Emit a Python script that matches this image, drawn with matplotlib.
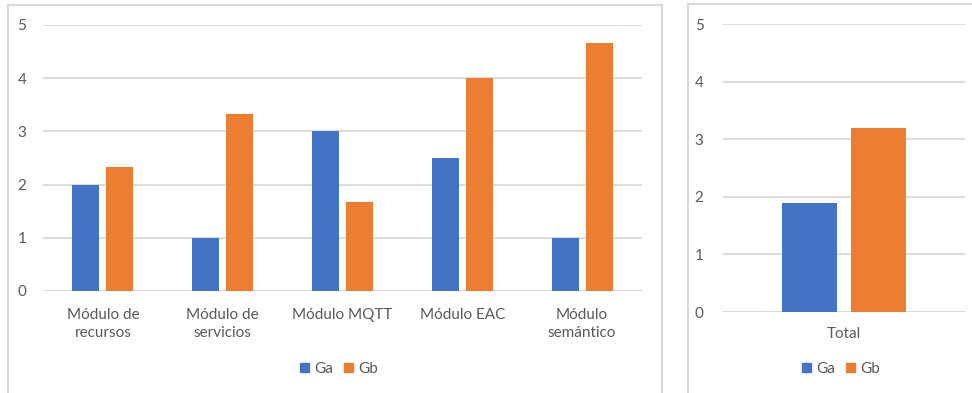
import matplotlib
matplotlib.use("Agg")
import matplotlib.pyplot as plt
import numpy as np
from matplotlib.patches import Rectangle, Patch

# Data
modules = ["Módulo de\nrecursos", "Módulo de\nservicios", "Módulo MQTT",
           "Módulo EAC", "Módulo\nsemántico"]
ga_values = [2, 1, 3, 2.5, 1]
gb_values = [2.33, 3.33, 1.67, 4, 4.67]

total_label = ["Total"]
ga_total = [1.9]
gb_total = [3.2]

series_names = ["Ga", "Gb"]
yticks = [0, 1, 2, 3, 4, 5]

BLUE = "#4472C4"
ORANGE = "#ED7D31"
GRID = "#D9D9D9"
TEXT = "#595959"

plt.rcParams["font.family"] = ["Lato", "DejaVu Sans"]
FS = 11

W, H = 972, 393
fig = plt.figure(figsize=(W / 100, H / 100), dpi=100)


def fx(px):
    return px / W


def fy(py):
    return 1 - py / H


# panel frames
fig.patches.append(Rectangle((fx(8), fy(420)), fx(662) - fx(8), fy(5) - fy(420),
                             transform=fig.transFigure, fill=False,
                             edgecolor=GRID, linewidth=1.5, zorder=0))
fig.patches.append(Rectangle((fx(688), fy(420)), fx(1000) - fx(688), fy(4) - fy(420),
                             transform=fig.transFigure, fill=False,
                             edgecolor=GRID, linewidth=1.5, zorder=0))


def style_axes(ax, ypad, xpad):
    ax.set_ylim(0, 5)
    ax.set_yticks(yticks)
    for s in ax.spines.values():
        s.set_visible(False)
    ax.yaxis.grid(True, color=GRID, linewidth=1.3)
    ax.set_axisbelow(True)
    ax.tick_params(axis="both", length=0, labelsize=FS, labelcolor=TEXT)
    ax.tick_params(axis="y", pad=ypad)
    ax.tick_params(axis="x", pad=xpad)
    ax.axhline(0, color=GRID, linewidth=1.3, zorder=1)


bw = 0.225
off = 0.142

# left chart
ax1 = fig.add_axes([fx(43), fy(291), fx(642) - fx(43), fy(25) - fy(291)])
x = np.arange(len(modules))
ax1.bar(x - off, ga_values, bw, color=BLUE, zorder=2)
ax1.bar(x + off, gb_values, bw, color=ORANGE, zorder=2)
ax1.set_xlim(-0.5, len(modules) - 0.5)
ax1.set_xticks(x)
ax1.set_xticklabels(modules, linespacing=1.38)
style_axes(ax1, 12, 12)

# right chart
ax2 = fig.add_axes([fx(723), fy(312), fx(965) - fx(723), fy(24) - fy(312)])
x2 = np.arange(len(total_label))
ax2.bar(x2 - off, ga_total, bw, color=BLUE, zorder=2)
ax2.bar(x2 + off, gb_total, bw, color=ORANGE, zorder=2)
ax2.set_xlim(-0.5, 0.5)
ax2.set_xticks(x2)
ax2.set_xticklabels(total_label)
style_axes(ax2, 14, 11)

handles = [Patch(color=BLUE, label=series_names[0]),
           Patch(color=ORANGE, label=series_names[1])]
for cx in (339, 841):
    leg = fig.legend(handles=handles, loc="center", ncol=2,
                     bbox_to_anchor=(fx(cx), fy(369)), frameon=False,
                     fontsize=FS, handlelength=0.6, handleheight=0.6,
                     handletextpad=0.35, columnspacing=0.7)
    for t in leg.get_texts():
        t.set_color(TEXT)

fig.savefig("out.png", dpi=100)
